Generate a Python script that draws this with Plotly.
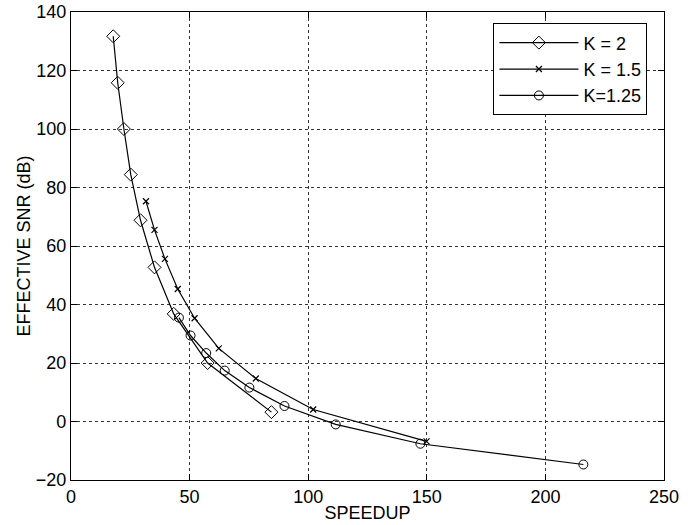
import plotly.graph_objects as go

k2_x = [17.8, 19.7, 22.3, 25.2, 29.3, 35.2, 43.3, 57.6, 84.5]
k2_y = [131.7, 115.8, 100.0, 84.4, 68.8, 52.7, 36.8, 20.0, 3.2]

k15_x = [31.6, 35.2, 39.6, 45.0, 52.1, 62.3, 77.9, 102.1, 149.9]
k15_y = [75.3, 65.5, 55.6, 45.3, 35.3, 25.0, 14.7, 4.1, -6.8]

k125_x = [45.5, 50.4, 57.0, 64.8, 75.2, 90.0, 111.6, 147.3, 216.0]
k125_y = [35.5, 29.4, 23.4, 17.4, 11.6, 5.3, -1.0, -7.6, -14.7]

names = ["K = 2", "K = 1.5", "K=1.25"]

font = "Liberation Sans, Arial, Helvetica, sans-serif"

fig = go.Figure()
fig.add_trace(go.Scatter(x=k2_x, y=k2_y, mode="lines+markers", name=names[0],
                         line=dict(color="black", width=1.2),
                         marker=dict(symbol="diamond-open", size=10, color="black", line=dict(width=1))))
fig.add_trace(go.Scatter(x=k15_x, y=k15_y, mode="lines+markers", name=names[1],
                         line=dict(color="black", width=1.2),
                         marker=dict(symbol="x-thin-open", size=6, color="black", line=dict(width=1.2, color="black"))))
fig.add_trace(go.Scatter(x=k125_x, y=k125_y, mode="lines+markers", name=names[2],
                         line=dict(color="black", width=1.2),
                         marker=dict(symbol="circle-open", size=9, color="black", line=dict(width=1))))

axis_common = dict(showline=True, linecolor="black", linewidth=1.2, mirror="ticks",
                   ticks="inside", ticklen=6, tickcolor="black", automargin=False,
                   showgrid=True, gridcolor="#333333", griddash="dot", gridwidth=1,
                   zeroline=False, tickfont=dict(size=18, color="black", family=font))

fig.update_xaxes(range=[0, 250], dtick=50, tick0=0,
                 title=dict(text="SPEEDUP", font=dict(size=18, color="black", family=font), standoff=0),
                 **axis_common)
fig.update_yaxes(range=[-20, 140], dtick=20, tick0=-20,
                 title=dict(text="EFFECTIVE SNR (dB)", font=dict(size=18, color="black", family=font), standoff=0),
                 **axis_common)

fig.update_layout(
    width=696, height=525,
    margin=dict(l=71, r=32, t=12, b=45),
    paper_bgcolor="white", plot_bgcolor="white",
    font=dict(family=font, color="black", size=18),
    legend=dict(x=0.712, y=0.976, xanchor="left", yanchor="top",
                bgcolor="white", bordercolor="black", borderwidth=1.2,
                font=dict(size=18, family=font, color="black"),
                tracegroupgap=0, itemwidth=79),
    showlegend=True,
)

fig.write_html("out.html", config={"displayModeBar": False},
               post_script="document.body.style.margin='0';")
